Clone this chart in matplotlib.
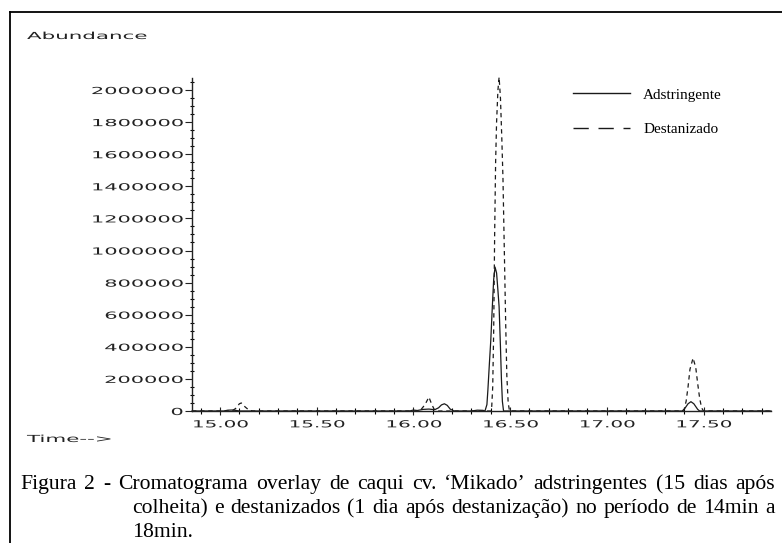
import numpy as np
import matplotlib
matplotlib.use("Agg")
import matplotlib.pyplot as plt
from matplotlib import patheffects
from matplotlib.transforms import Affine2D
from matplotlib.lines import Line2D
from matplotlib.ticker import FixedLocator, MultipleLocator

# Adstringente (linha cheia) - tempo (min), abundancia
t_adst = [14.855, 15.02, 15.04, 15.06, 15.08, 15.10, 15.98, 16.00, 16.02,
          16.05, 16.08, 16.11, 16.13, 16.145, 16.16, 16.175, 16.19, 16.21,
          16.30, 16.33, 16.36, 16.370, 16.380, 16.385, 16.393, 16.400,
          16.408, 16.415, 16.422, 16.430, 16.437, 16.443, 16.450, 16.455,
          16.460, 16.466, 17.39, 17.40, 17.42, 17.435, 17.45, 17.47, 17.48,
          17.849]
y_adst = [0, 0, 5000, 6000, 4000, 0, 0, 6000, 3000,
          10000, 12000, 8000, 20000, 38000, 45000, 35000, 12000, 0,
          0, 5000, 4000, 0, 40000, 130000, 300000, 440000,
          650000, 820000, 897000, 860000, 750000, 650000, 400000, 200000,
          60000, 0, 0, 10000, 45000, 58000, 45000, 10000, 0,
          0]

# Destanizado (linha tracejada)
t_dest = [14.855, 15.06, 15.08, 15.10, 15.11, 15.13, 15.15, 15.17, 16.02,
          16.04, 16.06, 16.08, 16.095, 16.11, 16.13, 16.400, 16.405, 16.410,
          16.415, 16.420, 16.425, 16.430, 16.437, 16.443, 16.450, 16.457,
          16.463, 16.470, 16.477, 16.483, 16.490, 16.497, 17.39, 17.40,
          17.41, 17.42, 17.43, 17.446, 17.46, 17.47, 17.48, 17.49, 17.50,
          17.849]
y_dest = [0, 0, 15000, 45000, 50000, 25000, 5000, 0, 0,
          10000, 40000, 87000, 40000, 5000, 0, 0, 30000, 150000,
          500000, 1100000, 1550000, 1800000, 2000000, 2080000, 1950000, 1700000,
          1450000, 1000000, 550000, 220000, 50000, 0, 0, 10000,
          60000, 150000, 260000, 330000, 270000, 170000, 80000, 20000, 0,
          0]

x_ticks = [15.0, 15.5, 16.0, 16.5, 17.0, 17.5]
x_labels = ["15.00", "15.50", "16.00", "16.50", "17.00", "17.50"]
y_ticks = [0, 200000, 400000, 600000, 800000, 1000000, 1200000, 1400000,
           1600000, 1800000, 2000000]
y_labels = ["0", "200000", "400000", "600000", "800000", "1000000",
            "1200000", "1400000", "1600000", "1800000", "2000000"]

legend_labels = ["Adstringente", "Destanizado"]
caption = ["Figura 2 - Cromatograma overlay de caqui cv. \u2018Mikado\u2019 adstringentes (15 dias ap\u00f3s",
           "colheita) e destanizados (1 dia ap\u00f3s destaniza\u00e7\u00e3o) no per\u00edodo de 14min a",
           "18min."]


class Stretch(patheffects.AbstractPathEffect):
    """Alarga o texto na horizontal (fonte 'larga' do cromatografo)."""
    def __init__(self, sx=2.1, anchor="left"):
        super().__init__()
        self.sx = sx
        self.anchor = anchor

    def draw_path(self, renderer, gc, tpath, affine, rgbFace=None):
        xs = tpath.vertices[:, 0]
        if len(xs) == 0:
            return
        if self.anchor == "right":
            ref = xs.max()
        elif self.anchor == "center":
            ref = (xs.min() + xs.max()) / 2
        else:
            ref = xs.min()
        t = Affine2D().translate(-ref, 0).scale(self.sx, 1).translate(ref, 0)
        renderer.draw_path(gc, tpath, t + affine, rgbFace)


W, H = 782, 543
fig = plt.figure(figsize=(W / 100, H / 100), dpi=100)
ax = fig.add_axes([192 / W, 1 - 411 / H, (771 - 192) / W, (411 - 78) / H])

lc = "#1a1a1a"
ax.plot(t_adst, y_adst, color=lc, lw=0.9, clip_on=False)
ax.plot(t_dest, y_dest, color=lc, lw=0.9, dashes=(3.5, 3), clip_on=False)

ax.set_xlim(14.855, 17.849)
ax.set_ylim(0, 2075000)

for s in ["top", "right"]:
    ax.spines[s].set_visible(False)
for s in ["left", "bottom"]:
    ax.spines[s].set_color("#222222")
    ax.spines[s].set_linewidth(1.0)

ax.xaxis.set_major_locator(FixedLocator(x_ticks))
ax.xaxis.set_minor_locator(MultipleLocator(0.1))
ax.set_xticklabels(x_labels)
ax.yaxis.set_major_locator(FixedLocator(y_ticks))
ax.yaxis.set_minor_locator(MultipleLocator(50000))
ax.set_yticklabels(y_labels)

ax.tick_params(axis="x", which="major", direction="inout", length=6, width=0.8,
               pad=3, labelsize=7, colors="#222222")
ax.tick_params(axis="x", which="minor", direction="inout", length=4, width=0.8)
ax.tick_params(axis="y", which="major", direction="out", length=5, width=0.8,
               pad=1.5, labelsize=7, colors="#222222")
ax.tick_params(axis="y", which="minor", direction="inout", length=3, width=0.8)

for lbl in ax.get_xticklabels():
    lbl.set_path_effects([Stretch(2.05, "center")])
for lbl in ax.get_yticklabels():
    lbl.set_path_effects([Stretch(2.15, "right")])

# legenda
handles = [Line2D([], [], color=lc, lw=1.0),
           Line2D([], [], color=lc, lw=1.0, dashes=(11, 7))]
ax.legend(handles, legend_labels, loc="upper left",
          bbox_to_anchor=(573 / W, 1 - 88 / H), bbox_transform=fig.transFigure,
          frameon=False, handlelength=3.75, handletextpad=0.85, labelspacing=1.35,
          borderpad=0, borderaxespad=0,
          prop={"family": "Liberation Serif", "size": 11})

fig.text(27 / W, 1 - 36 / H, "Abundance", fontsize=7, va="center", ha="left",
         color="#222222", path_effects=[Stretch(2.2, "left")])
fig.text(27 / W, 1 - 439 / H, "Time-->", fontsize=7, va="center", ha="left",
         color="#222222", path_effects=[Stretch(2.2, "left")])

# legenda da figura (texto justificado nas duas primeiras linhas)
cap_x = [20, 132, 132]
cap_y = [489, 513, 537]
cap_right = 775
cap_font = {"fontsize": 15.6, "family": "Liberation Serif", "va": "baseline",
            "ha": "left", "color": "black"}
renderer = fig.canvas.get_renderer()
for i, (txt, cx, cy) in enumerate(zip(caption, cap_x, cap_y)):
    if i == len(caption) - 1:
        fig.text(cx / W, 1 - cy / H, txt, **cap_font)
        continue
    words = txt.split(" ")
    arts = [fig.text(0, 1 - cy / H, w, **cap_font) for w in words]
    widths = [a.get_window_extent(renderer).width for a in arts]
    gap = (cap_right - cx - sum(widths)) / (len(words) - 1)
    x = cx
    for a, w in zip(arts, widths):
        a.set_x(x / W)
        x += w + gap

# moldura
fig.add_artist(Line2D([10 / W, 10 / W], [0, 1 - 12 / H], transform=fig.transFigure,
                      color="black", lw=1.3))
fig.add_artist(Line2D([10 / W, 1], [1 - 12 / H, 1 - 12 / H], transform=fig.transFigure,
                      color="black", lw=1.3))

fig.savefig("out.png", dpi=100)
